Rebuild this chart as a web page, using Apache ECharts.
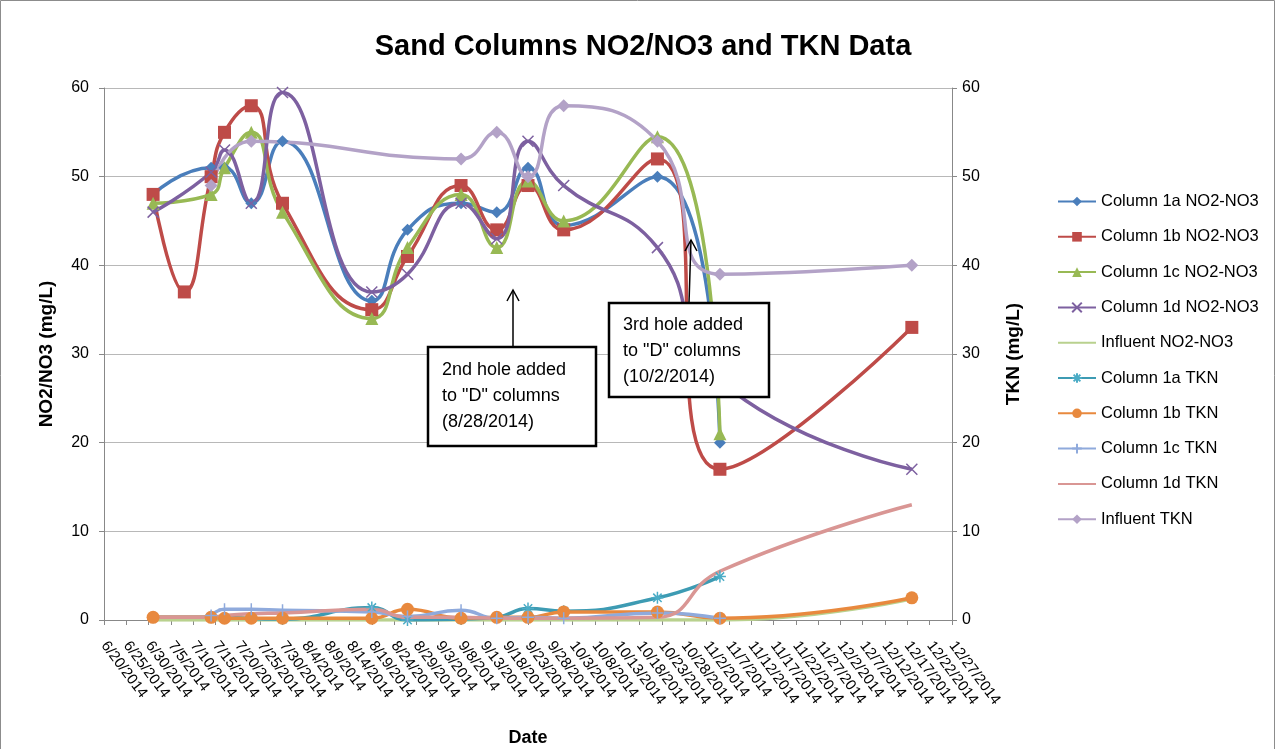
<!DOCTYPE html>
<html>
<head>
<meta charset="utf-8">
<script src="https://cdn.jsdelivr.net/npm/echarts@6/dist/echarts.min.js"></script>
<style>
  html, body { margin: 0; padding: 0; background: #fff; }
  #chart { width: 1276px; height: 749px; }
</style>
</head>
<body>
<div id="chart"></div>
<script>
// sampling dates
var dates = ['7/1/2014', '7/8/2014', '7/14/2014', '7/17/2014', '7/23/2014', '7/30/2014', '8/19/2014',
  '8/27/2014', '9/8/2014', '9/16/2014', '9/23/2014', '10/1/2014', '10/22/2014', '11/5/2014', '12/18/2014']

// NO2/NO3 (mg/L), left axis
var col1aNO3 = [48, null, 51, 51, 47, 54, 36, 44, 47, 46, 51, 44.5, 50, 20, null]
var col1bNO3 = [48, 37, 50, 55, 58, 47, 35, 41, 49, 44, 49, 44, 52, 17, 33]
var col1cNO3 = [47, null, 48, 51, 55, 46, 34, 42, 48, 42, 49.5, 45, 54.5, 21, null]
var col1dNO3 = [46, null, 50.5, 53, 47, 59.5, 37, 39, 47, 43, 54, 49, 42, 27, 17]
var influentNO3 = [0, null, 0, 0, 0, 0, 0, 0, 0, 0, 0, 0, 0, 0, 2.4]

// TKN (mg/L), right axis
var col1aTKN = [0.3, null, 0.3, null, null, 0.1, 1.4, 0, 0.1, 0.3, 1.3, 1.0, 2.5, 4.9, null]
var col1bTKN = [0.3, null, 0.3, 0.2, 0.2, 0.2, 0.2, 1.2, 0.2, 0.3, 0.3, 0.9, 0.9, 0.2, 2.5]
var col1cTKN = [null, null, 0.5, 1.2, 1.2, 1.1, 0.9, 0.4, 1.1, 0.2, 0.3, 0.2, 0.8, 0.2, null]
var col1dTKN = [0.3, null, 0.3, 0.5, 0.7, 0.8, 1.2, 0.3, 0.3, 0.2, 0.2, 0.2, 0.3, 5.5, 13]
var influentTKN = [null, null, 49, null, 54, null, null, null, 52, 55, 50, 58, 54, 39, 40]

// x axis runs 6/20/2014 .. 12/27/2014 in 5 day steps
var startDate = new Date(2014, 5, 20)
var axisDays = 190
var tickDays = 5

function dayOf (s) {
  var p = s.split('/')
  var d = new Date(+p[2], +p[0] - 1, +p[1])
  return Math.round((d - startDate) / 86400000)
}
function dayLabel (v) {
  var d = new Date(2014, 5, 20 + v)
  return (d.getMonth() + 1) + '/' + d.getDate() + '/' + d.getFullYear()
}
function pairs (vals) {
  var out = []
  for (var i = 0; i < dates.length; i++) {
    if (vals[i] != null) out.push([dayOf(dates[i]), vals[i]])
  }
  return out
}

var font = '"Liberation Sans", Arial, sans-serif'
// invisible marker (line only, also in the legend)
var noMark = 'path://M0,0L1,1'
var xMark = 'path://M0,0L10,10M10,0L0,10'
var starMark = 'path://M5,0L5,10M0,5L10,5M1.5,1.5L8.5,8.5M8.5,1.5L1.5,8.5'
var plusMark = 'path://M5,0L5,10M0,5L10,5'

function line (name, vals, color, symbol, size, axis, extra) {
  var s = {
    name: name,
    type: 'line',
    yAxisIndex: axis,
    smooth: 0.5,
    data: pairs(vals),
    symbol: symbol,
    symbolSize: size,
    showSymbol: symbol !== noMark,
    lineStyle: { width: 3.5, color: color },
    itemStyle: { color: color },
    emphasis: { disabled: true }
  }
  if (symbol === noMark) s.itemStyle.borderWidth = 0
  if (extra) s.itemStyle = Object.assign(s.itemStyle, extra)
  return s
}

var chart = echarts.init(document.getElementById('chart'))
var option = {
  animation: false,
  title: {
    text: 'Sand Columns NO2/NO3 and TKN Data',
    left: 638,
    textAlign: 'center',
    top: 27,
    textStyle: { fontFamily: font, fontSize: 29, fontWeight: 'bold', color: '#000' }
  },
  legend: {
    orient: 'vertical',
    left: 1052,
    top: 188,
    itemGap: 18.3,
    itemWidth: 38,
    itemHeight: 12,
    textStyle: { fontFamily: font, fontSize: 16.5, color: '#000' }
  },
  grid: { left: 104, right: 324, top: 88, bottom: 129, outerBoundsMode: 'none' },
  xAxis: {
    type: 'value',
    min: 0,
    max: axisDays,
    interval: tickDays,
    name: 'Date',
    nameLocation: 'middle',
    nameGap: 109,
    nameTextStyle: { fontFamily: font, fontSize: 18, fontWeight: 'bold', color: '#000' },
    axisLine: { lineStyle: { color: '#888' } },
    axisTick: { show: true, length: 5, lineStyle: { color: '#888' } },
    splitLine: { show: false },
    axisLabel: {
      rotate: -53,
      margin: 23,
      fontFamily: font,
      fontSize: 15,
      color: '#000',
      formatter: dayLabel
    }
  },
  yAxis: [{
    type: 'value',
    min: 0,
    max: 60,
    interval: 10,
    name: 'NO2/NO3 (mg/L)',
    nameLocation: 'middle',
    nameRotate: 90,
    nameGap: 48,
    nameTextStyle: { fontFamily: font, fontSize: 19, fontWeight: 'bold', color: '#000' },
    axisLine: { show: true, lineStyle: { color: '#888' } },
    axisTick: { show: true, length: 5, lineStyle: { color: '#888' } },
    axisLabel: { fontFamily: font, fontSize: 16, color: '#000', margin: 15 },
    splitLine: { lineStyle: { color: '#b8b8b8', width: 1 } }
  }, {
    type: 'value',
    min: 0,
    max: 60,
    interval: 10,
    position: 'right',
    name: 'TKN (mg/L)',
    nameLocation: 'middle',
    nameRotate: 90,
    nameGap: 52,
    nameTextStyle: { fontFamily: font, fontSize: 19, fontWeight: 'bold', color: '#000' },
    axisLine: { show: true, lineStyle: { color: '#888' } },
    axisTick: { show: true, length: 5, lineStyle: { color: '#888' } },
    axisLabel: { fontFamily: font, fontSize: 16, color: '#000', margin: 10 },
    splitLine: { show: false }
  }],
  series: [
    line('Column 1a NO2-NO3', col1aNO3, '#4a7ebb', 'diamond', 12, 0),
    line('Column 1b NO2-NO3', col1bNO3, '#be4b48', 'rect', 13, 0),
    line('Column 1c NO2-NO3', col1cNO3, '#98b954', 'triangle', 13, 0),
    line('Column 1d NO2-NO3', col1dNO3, '#7d60a0', xMark, 11, 0, { borderColor: '#7d60a0', borderWidth: 1.5 }),
    line('Influent NO2-NO3', influentNO3, '#b9d18e', noMark, 0, 0),
    line('Column 1a TKN', col1aTKN, '#3d9bb3', starMark, 12, 1, { borderColor: '#4bacc6', borderWidth: 1.5 }),
    line('Column 1b TKN', col1bTKN, '#e8893e', 'circle', 13, 1),
    line('Column 1c TKN', col1cTKN, '#8faadc', plusMark, 12, 1, { borderColor: '#8faadc', borderWidth: 1.5 }),
    line('Column 1d TKN', col1dTKN, '#d99694', noMark, 0, 1),
    line('Influent TKN', influentTKN, '#b3a2c7', 'diamond', 13, 1)
  ],
  graphic: [
    { type: 'rect', z: 100, shape: { x: 0.5, y: 0.5, width: 1274, height: 760 }, style: { fill: null, stroke: '#8c8c8c', lineWidth: 1 } },
    { type: 'line', z: 100, shape: { x1: 513, y1: 347, x2: 513, y2: 290 }, style: { stroke: '#000', lineWidth: 1.5 } },
    { type: 'polyline', z: 100, shape: { points: [[507, 301], [513, 290], [519, 301]] }, style: { stroke: '#000', fill: null, lineWidth: 1.5 } },
    { type: 'rect', z: 100, shape: { x: 428, y: 347, width: 168, height: 99 }, style: { fill: '#fff', stroke: '#000', lineWidth: 2.5 } },
    { type: 'text', z: 101, x: 442, y: 357, style: { text: '2nd hole added\nto "D" columns\n(8/28/2014)', font: '18px ' + font, fill: '#000', lineHeight: 26 } },
    { type: 'line', z: 100, shape: { x1: 689, y1: 303, x2: 691, y2: 240 }, style: { stroke: '#000', lineWidth: 1.5 } },
    { type: 'polyline', z: 100, shape: { points: [[685, 251], [691, 240], [697, 251]] }, style: { stroke: '#000', fill: null, lineWidth: 1.5 } },
    { type: 'rect', z: 100, shape: { x: 609, y: 303, width: 160, height: 94 }, style: { fill: '#fff', stroke: '#000', lineWidth: 2.5 } },
    { type: 'text', z: 101, x: 623, y: 312, style: { text: '3rd hole added\nto "D" columns\n(10/2/2014)', font: '18px ' + font, fill: '#000', lineHeight: 26 } }
  ]
}
chart.setOption(option)
window.addEventListener('resize', function () {
  chart.resize()
})
</script>
</body>
</html>
